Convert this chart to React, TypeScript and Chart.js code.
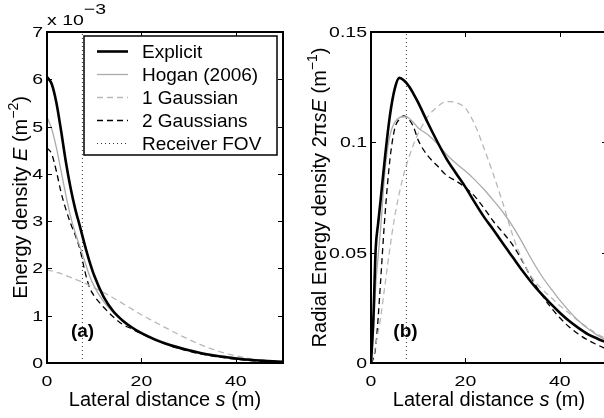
import React, { useEffect, useRef } from "react";
import { Chart, registerables } from "chart.js";

Chart.register(...registerables);

const FONT = '"Liberation Sans", Arial, Helvetica, sans-serif';

// ---------- Panel (a): energy density E (x 1e-3 m^-2) ----------
const sLeft = [0, 1, 2, 3, 4, 5, 6, 7, 8, 9, 10, 12, 14, 16, 18, 20, 23, 26, 30, 34, 38, 42, 46, 50];
const explicitLeft = [6.05, 5.9, 5.5, 4.9, 4.25, 3.7, 3.25, 2.88, 2.5, 2.15, 1.85, 1.4, 1.1, 0.9, 0.75, 0.63, 0.49, 0.38, 0.27, 0.18, 0.12, 0.075, 0.045, 0.025];
const hoganLeft = [5.2, 4.95, 4.55, 4.05, 3.55, 3.1, 2.75, 2.45, 2.15, 1.85, 1.62, 1.3, 1.07, 0.9, 0.76, 0.65, 0.51, 0.4, 0.29, 0.2, 0.14, 0.09, 0.06, 0.04];
const gauss1Left = [1.96, 1.95, 1.92, 1.89, 1.85, 1.81, 1.77, 1.73, 1.69, 1.64, 1.59, 1.49, 1.38, 1.26, 1.14, 1.02, 0.86, 0.7, 0.5, 0.33, 0.2, 0.11, 0.05, 0.02];
const gauss2Left = [4.55, 4.42, 4.05, 3.6, 3.25, 2.95, 2.7, 2.4, 1.95, 1.6, 1.42, 1.18, 0.98, 0.82, 0.72, 0.62, 0.49, 0.37, 0.25, 0.165, 0.105, 0.06, 0.033, 0.018];

// ---------- Panel (b): radial energy density 2*pi*s*E (m^-1) ----------
const sRight = [0, 0.5, 1, 1.5, 2, 3, 4, 5, 6, 7, 8, 9, 10, 12, 14, 16, 18, 20, 22, 24, 26, 28, 30, 32, 34, 36, 38, 40, 42, 44, 46, 48, 50];
const explicitRight = [0, 0.02, 0.052, 0.063, 0.073, 0.094, 0.112, 0.124, 0.1292, 0.128, 0.1255, 0.122, 0.118, 0.109, 0.1005, 0.0925, 0.086, 0.0797, 0.0727, 0.066, 0.0602, 0.054, 0.048, 0.042, 0.0365, 0.0315, 0.027, 0.0228, 0.019, 0.0158, 0.013, 0.011, 0.0092];
const hoganRight = [0, 0.013, 0.035, 0.048, 0.06, 0.088, 0.103, 0.109, 0.1112, 0.1116, 0.111, 0.109, 0.1065, 0.1035, 0.0995, 0.0945, 0.0905, 0.087, 0.083, 0.0785, 0.0735, 0.0682, 0.062, 0.0548, 0.047, 0.04, 0.034, 0.0285, 0.0235, 0.019, 0.0155, 0.0125, 0.0102];
const gauss1Right = [0, 0.003, 0.008, 0.014, 0.02, 0.036, 0.052, 0.066, 0.077, 0.086, 0.093, 0.099, 0.104, 0.1115, 0.116, 0.1185, 0.118, 0.1155, 0.108, 0.097, 0.085, 0.072, 0.058, 0.047, 0.039, 0.034, 0.03, 0.026, 0.0225, 0.019, 0.016, 0.013, 0.011];
const gauss2Right = [0, 0.002, 0.0074, 0.02, 0.036, 0.068, 0.092, 0.106, 0.1105, 0.112, 0.1105, 0.107, 0.101, 0.094, 0.0895, 0.085, 0.0825, 0.0795, 0.0755, 0.07, 0.064, 0.059, 0.0535, 0.0465, 0.0385, 0.0315, 0.0255, 0.0205, 0.0163, 0.013, 0.0103, 0.0082, 0.0062];

const receiverFovS = 7.5;

const xTicks = [0, 20, 40];
const yTicksLeft = [0, 1, 2, 3, 4, 5, 6, 7];
const yTickLabelsLeft = ["0", "1", "2", "3", "4", "5", "6", "7"];
const yTicksRight = [0, 0.05, 0.1, 0.15];
const yTickLabelsRight = ["0", "0.05", "0.1", "0.15"];
const seriesNames = ["Explicit", "Hogan (2006)", "1 Gaussian", "2 Gaussians", "Receiver FOV"];

type Seg = { t: string; italic?: boolean; bold?: boolean; sup?: boolean; up?: number };

function drawRich(
  ctx: CanvasRenderingContext2D,
  segs: Seg[],
  x: number,
  y: number,
  size: number,
  align: "left" | "center" | "right",
  rotate = false,
  sx = 1
) {
  const fontOf = (s: Seg) =>
    `${s.italic ? "italic " : ""}${s.bold ? "bold " : ""}${s.sup ? Math.round(size * 0.72) : size}px ${FONT}`;
  let total = 0;
  const widths = segs.map((s) => {
    ctx.font = fontOf(s);
    const w = ctx.measureText(s.t).width;
    total += w;
    return w;
  });
  ctx.save();
  ctx.translate(x, y);
  if (rotate) ctx.rotate(-Math.PI / 2);
  ctx.scale(sx, 1);
  ctx.textBaseline = "alphabetic";
  ctx.textAlign = "left";
  ctx.fillStyle = "#000";
  let cur = align === "center" ? -total / 2 : align === "right" ? -total : 0;
  segs.forEach((s, i) => {
    ctx.font = fontOf(s);
    const dy = s.up !== undefined ? -s.up : s.sup ? -size * 0.42 : 0;
    ctx.fillText(s.t, cur, dy);
    cur += widths[i];
  });
  ctx.restore();
}

const styles = [
  { color: "#000000", width: 2.6, dash: [] as number[] },
  { color: "#ababab", width: 1.3, dash: [] as number[] },
  { color: "#b8b8b8", width: 1.3, dash: [6, 4] },
  { color: "#000000", width: 1.3, dash: [6, 4] },
  { color: "#333333", width: 1, dash: [1, 3] },
];

function makeDatasets(s: number[], series: number[][], yMax: number) {
  const ds: any[] = series.map((vals, i) => ({
    label: seriesNames[i],
    data: s.map((x, j) => ({ x, y: vals[j] })),
    borderColor: styles[i].color,
    borderWidth: styles[i].width,
    borderDash: styles[i].dash,
    pointRadius: 0,
    fill: false,
    cubicInterpolationMode: "monotone",
  }));
  ds.push({
    label: seriesNames[4],
    data: [
      { x: receiverFovS, y: 0 },
      { x: receiverFovS, y: yMax },
    ],
    borderColor: styles[4].color,
    borderWidth: styles[4].width,
    borderDash: styles[4].dash,
    pointRadius: 0,
    fill: false,
  });
  return ds;
}

type PanelCfg = {
  yTicks: number[];
  yTickLabels: string[];
  yLabel: Seg[];
  yLabelX: number;
  panelTag: string;
  tagX: number;
  legend: boolean;
  exponent: boolean;
};

function makeFramePlugin(cfg: PanelCfg) {
  return {
    id: "frame",
    afterDatasetsDraw(chart: any) {
      const ctx: CanvasRenderingContext2D = chart.ctx;
      const { left, right, top, bottom } = chart.chartArea;
      const xs = chart.scales.x;
      const ys = chart.scales.y;
      ctx.save();
      ctx.setLineDash([]);
      // box
      ctx.strokeStyle = "#000";
      ctx.lineWidth = 2;
      ctx.strokeRect(left, top, right - left, bottom - top);
      // ticks (inward)
      ctx.lineWidth = 1;
      ctx.beginPath();
      xTicks.forEach((v) => {
        const px = Math.round(xs.getPixelForValue(v)) + 0.5;
        ctx.moveTo(px, bottom);
        ctx.lineTo(px, bottom - 5);
        ctx.moveTo(px, top);
        ctx.lineTo(px, top + 5);
      });
      cfg.yTicks.forEach((v) => {
        const py = Math.round(ys.getPixelForValue(v)) + 0.5;
        ctx.moveTo(left, py);
        ctx.lineTo(left + 5, py);
        ctx.moveTo(right, py);
        ctx.lineTo(right - 5, py);
      });
      ctx.stroke();
      // tick labels
      xTicks.forEach((v) => {
        drawRich(ctx, [{ t: String(v) }], xs.getPixelForValue(v), 386, 15, "center", false, 1.3);
      });
      cfg.yTicks.forEach((v, i) => {
        drawRich(ctx, [{ t: cfg.yTickLabels[i] }], left - 4, ys.getPixelForValue(v) + 5, 15, "right", false, 1.3);
      });
      // axis titles
      drawRich(
        ctx,
        [{ t: "Lateral distance " }, { t: "s", italic: true }, { t: " (m)" }],
        left + 236 / 2,
        406,
        20,
        "center"
      );
      drawRich(ctx, cfg.yLabel, cfg.yLabelX, (top + bottom) / 2, 20, "center", true);
      // exponent
      if (cfg.exponent) {
        drawRich(ctx, [{ t: "x 10" }, { t: "\u22123", up: 11 }], left, 25, 15, "left", false, 1.3);
      }
      // panel tag
      drawRich(ctx, [{ t: cfg.panelTag, bold: true }], cfg.tagX, 337, 19, "center");
      // legend
      if (cfg.legend) {
        const lx = 84, ly = 36, lw = 193, lh = 119;
        ctx.fillStyle = "#fff";
        ctx.fillRect(lx, ly, lw, lh);
        ctx.strokeStyle = "#000";
        ctx.lineWidth = 1.5;
        ctx.strokeRect(lx, ly, lw, lh);
        seriesNames.forEach((name, i) => {
          const yy = 51 + i * 23;
          ctx.strokeStyle = styles[i].color;
          ctx.lineWidth = styles[i].width;
          ctx.setLineDash(styles[i].dash);
          ctx.beginPath();
          ctx.moveTo(97, yy + 0.5);
          ctx.lineTo(128, yy + 0.5);
          ctx.stroke();
          ctx.setLineDash([]);
          drawRich(ctx, [{ t: name }], 142, yy + 7, 19, "left");
        });
      }
      ctx.restore();
    },
  };
}

function Panel(props: {
  left: number;
  width: number;
  padding: { left: number; right: number; top: number; bottom: number };
  s: number[];
  series: number[][];
  yMax: number;
  cfg: PanelCfg;
}) {
  const ref = useRef<HTMLCanvasElement | null>(null);
  useEffect(() => {
    if (!ref.current) return;
    const chart = new Chart(ref.current, {
      type: "line",
      data: { datasets: makeDatasets(props.s, props.series, props.yMax) },
      options: {
        animation: false,
        responsive: false,
        devicePixelRatio: 1,
        layout: { padding: props.padding },
        scales: {
          x: { type: "linear", min: 0, max: 50, display: false },
          y: { type: "linear", min: 0, max: props.yMax, display: false },
        },
        plugins: { legend: { display: false }, tooltip: { enabled: false } },
        elements: { line: { tension: 0 } },
      } as any,
      plugins: [makeFramePlugin(props.cfg)],
    });
    return () => chart.destroy();
  }, []);
  return (
    <canvas
      ref={ref}
      width={props.width}
      height={418}
      style={{ position: "absolute", left: props.left, top: 0, width: props.width, height: 418 }}
    />
  );
}

export default function App() {
  return (
    <div
      style={{
        position: "fixed",
        left: 0,
        top: 0,
        width: 604,
        height: 418,
        overflow: "hidden",
        background: "#fff",
      }}
    >
      <Panel
        left={0}
        width={300}
        padding={{ left: 47, right: 17, top: 32, bottom: 55 }}
        s={sLeft}
        series={[explicitLeft, hoganLeft, gauss1Left, gauss2Left]}
        yMax={7}
        cfg={{
          yTicks: yTicksLeft,
          yTickLabels: yTickLabelsLeft,
          yLabel: [{ t: "Energy density " }, { t: "E", italic: true }, { t: " (m" }, { t: "\u22122", sup: true }, { t: ")" }],
          yLabelX: 26.5,
          panelTag: "(a)",
          tagX: 82.5,
          legend: true,
          exponent: true,
        }}
      />
      <Panel
        left={300}
        width={320}
        padding={{ left: 71, right: 13, top: 32, bottom: 55 }}
        s={sRight}
        series={[explicitRight, hoganRight, gauss1Right, gauss2Right]}
        yMax={0.15}
        cfg={{
          yTicks: yTicksRight,
          yTickLabels: yTickLabelsRight,
          yLabel: [
            { t: "Radial Energy density 2\u03c0" },
            { t: "sE", italic: true },
            { t: " (m" },
            { t: "\u22121", sup: true },
            { t: ")" },
          ],
          yLabelX: 25.5,
          panelTag: "(b)",
          tagX: 105.5,
          legend: false,
          exponent: false,
        }}
      />
    </div>
  );
}
